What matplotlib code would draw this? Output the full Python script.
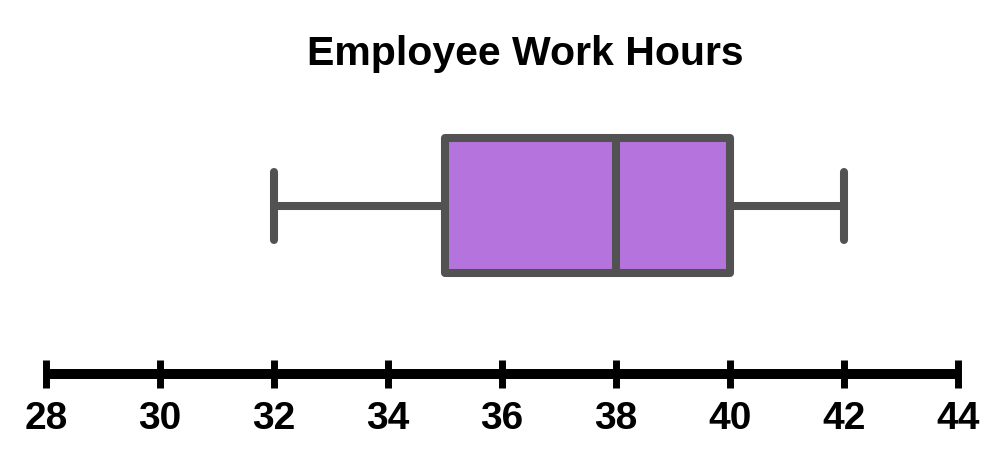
import matplotlib
matplotlib.use("Agg")
import matplotlib.pyplot as plt

# five number summary
Title = "Employee Work Hours"
Whislo = 32
Q1 = 35
Median = 38
Q3 = 40
Whishi = 42
TickValues = [28, 30, 32, 34, 36, 38, 40, 42, 44]

plt.rcParams['font.family'] = ['Liberation Sans', 'DejaVu Sans']

fig = plt.figure(figsize=(10, 4.57), dpi=100)
ax = fig.add_axes([0, 0, 1, 1])

# x maps 28 -> 46px and 44 -> 958px, y axis runs in pixel rows
PxPerUnit = (958 - 46) / (TickValues[-1] - TickValues[0])
ax.set_xlim(TickValues[0] - 46 / PxPerUnit, TickValues[-1] + (1000 - 958) / PxPerUnit)
ax.set_ylim(457, 0)

Stats = [dict(whislo=Whislo, q1=Q1, med=Median, q3=Q3, whishi=Whishi, fliers=[])]
EdgeColor = '#525252'
Lw = 5.8
ax.bxp(Stats, positions=[205.5], widths=135, capwidths=68,
       orientation='horizontal', patch_artist=True, showfliers=False,
       boxprops=dict(facecolor='#B574DD', edgecolor=EdgeColor, linewidth=Lw, joinstyle='round'),
       medianprops=dict(color=EdgeColor, linewidth=Lw, solid_capstyle='butt'),
       whiskerprops=dict(color=EdgeColor, linewidth=Lw, solid_capstyle='butt'),
       capprops=dict(color=EdgeColor, linewidth=Lw, solid_capstyle='round'))

# number line as the bottom spine
for side in ['top', 'left', 'right']:
    ax.spines[side].set_visible(False)
ax.spines['bottom'].set_position(('data', 374))
ax.spines['bottom'].set_bounds(TickValues[0], TickValues[-1])
ax.spines['bottom'].set_linewidth(7.2)
ax.spines['bottom'].set_color('black')
ax.spines['bottom'].set_capstyle('butt')
ax.set_yticks([])
ax.set_xticks(TickValues)
ax.set_xticklabels([str(v) for v in TickValues])
ax.tick_params(axis='x', direction='inout', length=20, width=5, color='black',
               pad=9.5, labelsize=28)
for lab in ax.get_xticklabels():
    lab.set_fontweight('bold')

ax.text((TickValues[0] + TickValues[-1]) / 2 + 23 / PxPerUnit, 54, Title,
        ha='center', va='center', fontsize=29.5, fontweight='bold')

fig.savefig("out.png", dpi=100)
